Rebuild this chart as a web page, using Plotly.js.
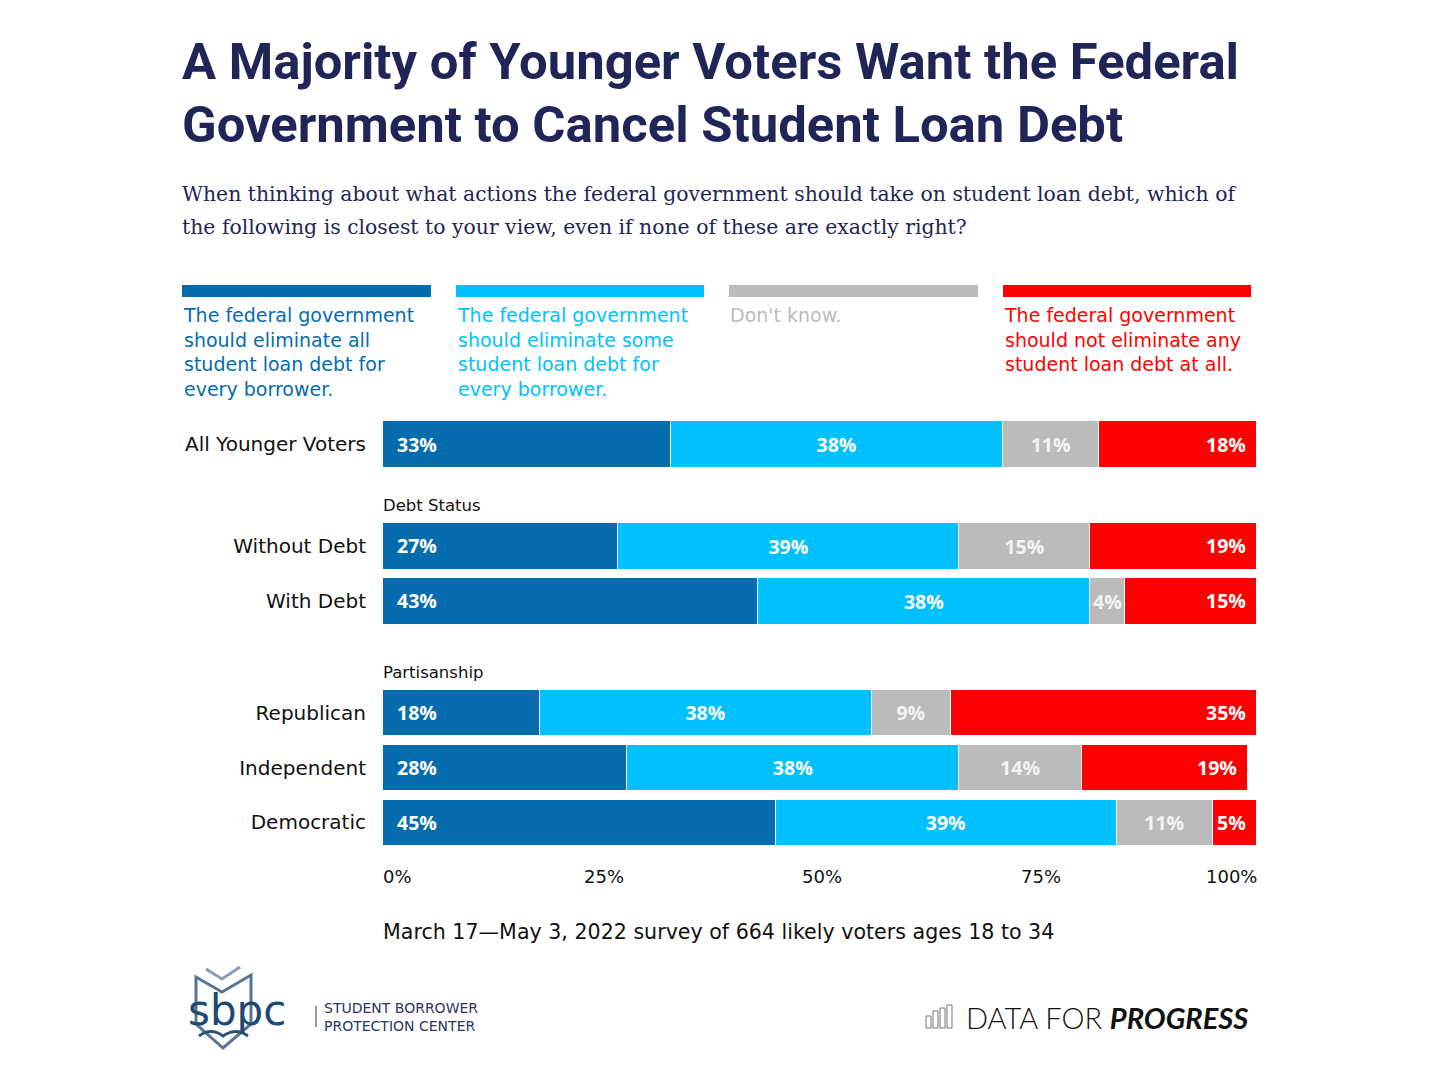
<!DOCTYPE html>
<html>
<head>
<meta charset="utf-8">
<script src="https://cdn.plot.ly/plotly-3.0.1.min.js"></script>
<style>
  html, body { margin: 0; padding: 0; background: #ffffff; }
  #chart { width: 1440px; height: 1080px; }
</style>
</head>
<body>
<div id="chart"></div>
<script>
// ---------------- DATA ----------------
const rows = ["All Younger Voters", "Without Debt", "With Debt", "Republican", "Independent", "Democratic"];
const rowGroups = ["", "Debt Status", "Debt Status", "Partisanship", "Partisanship", "Partisanship"];
const groupOrder = ["", "Debt Status", "Partisanship"];

const eliminateAll  = [33, 27, 43, 18, 28, 45];
const eliminateSome = [38, 39, 38, 38, 38, 39];
const dontKnow      = [11, 15, 4, 9, 14, 11];
const eliminateNone = [18, 19, 15, 35, 19, 5];

const seriesNames = [
  "The federal government<br>should eliminate all<br>student loan debt for<br>every borrower.",
  "The federal government<br>should eliminate some<br>student loan debt for<br>every borrower.",
  "Don't know.",
  "The federal government<br>should not eliminate any<br>student loan debt at all."
];
const tickVals = [0, 25, 50, 75, 100];
const tickLabels = ["0%", "25%", "50%", "75%", "100%"];

const titleLines = [
  "A Majority of Younger Voters Want the Federal",
  "Government to Cancel Student Loan Debt"
];
const subtitleLines = [
  "When thinking about what actions the federal government should take on student loan debt, which of",
  "the following is closest to your view, even if none of these are exactly right?"
];
const noteText = "March 17\u2014May 3, 2022 survey of 664 likely voters ages 18 to 34";

// ---------------- STYLE ----------------
const W = 1440, H = 1080;
const colors = ["#056cad", "#00c1ff", "#bbbbbb", "#ff0000"];
const labelColors = ["#ffffff", "#ffffff", "#f3f3f3", "#ffffff"];
const navy = "#1f2557";
const sansFont = "DejaVu Sans, sans-serif";
const barFont = { family: "Open Sans, sans-serif", size: 19.5, color: "#ffffff", weight: 700 };

const px = (x) => x / W;
const py = (y) => 1 - y / H;

const plotLeft = 382, plotRight = 1256;
const groupBands = [[416.5, 471.5], [518.5, 628.5], [685.6, 849.6]];
const axisNames = ["y", "y2", "y3"];

const series = [eliminateAll, eliminateSome, dontKnow, eliminateNone];

const traces = [];
const annotations = [];
const shapes = [];

groupOrder.forEach((g, gi) => {
  const idx = rows.map((r, i) => i).filter(i => rowGroups[i] === g);
  const cats = idx.map(i => rows[i]);
  series.forEach((vals, si) => {
    const xs = idx.map(i => vals[i]);
    const t = {
      type: "bar",
      orientation: "h",
      y: cats,
      x: xs,
      yaxis: axisNames[gi],
      xaxis: "x",
      name: seriesNames[si],
      showlegend: false,
      marker: { color: colors[si], line: { color: "#ffffff", width: 1 } },
      hovertemplate: "%{y}: %{x}%<extra></extra>"
    };
    if (si === 1 || si === 2) {
      t.text = xs.map(v => v + "%");
      t.textposition = "inside";
      t.insidetextanchor = "middle";
      t.textangle = 0;
      t.constraintext = "none";
      t.textfont = Object.assign({}, barFont, { color: labelColors[si] });
    } else {
      t.textposition = "none";
    }
    traces.push(t);
  });
  idx.forEach(i => {
    annotations.push({
      xref: "x", yref: axisNames[gi], x: 0, y: rows[i],
      text: eliminateAll[i] + "%", showarrow: false,
      xanchor: "left", yanchor: "middle", xshift: 13,
      font: barFont
    });
    const total = eliminateAll[i] + eliminateSome[i] + dontKnow[i] + eliminateNone[i];
    annotations.push({
      xref: "x", yref: axisNames[gi], x: total, y: rows[i],
      text: eliminateNone[i] + "%", showarrow: false,
      xanchor: "right", yanchor: "middle", xshift: -8,
      font: barFont
    });
  });
  if (g) {
    annotations.push({
      xref: "paper", yref: "paper", x: px(381), y: py(groupBands[gi][0] - 13),
      text: g, showarrow: false, xanchor: "left", yanchor: "middle",
      font: { family: sansFont, size: 16.5, color: "#111111" }
    });
  }
});

// x-axis tick labels
tickVals.forEach((v, i) => {
  const anchor = i === 0 ? "left" : (i === tickVals.length - 1 ? "right" : "center");
  annotations.push({
    xref: "x", yref: "paper", x: v, y: py(876),
    text: tickLabels[i], showarrow: false, xanchor: anchor, yanchor: "middle",
    xshift: i === 0 ? -1 : 3,
    font: { family: sansFont, size: 18, color: "#111111" }
  });
});

// Title lines
const titleY = [62, 124];
titleLines.forEach((t, i) => {
  annotations.push({
    xref: "paper", yref: "paper", x: px(180), y: py(titleY[i]),
    text: "<b>" + t + "</b>", showarrow: false, xanchor: "left", yanchor: "middle",
    font: { family: "Roboto, sans-serif", size: 50.8, color: navy }
  });
});
// Subtitle
const subY = [194, 227];
subtitleLines.forEach((t, i) => {
  annotations.push({
    xref: "paper", yref: "paper", x: px(180), y: py(subY[i]),
    text: t, showarrow: false, xanchor: "left", yanchor: "middle",
    font: { family: "DejaVu Serif, serif", size: 20.4, color: navy }
  });
});

// Legend blocks
const legendX = [[182, 431], [456, 704], [729, 978], [1003, 1251]];
legendX.forEach((lx, i) => {
  shapes.push({
    type: "rect", xref: "paper", yref: "paper",
    x0: px(lx[0]), x1: px(lx[1]), y0: py(297), y1: py(285),
    fillcolor: colors[i], line: { width: 0 }
  });
  annotations.push({
    xref: "paper", yref: "paper", x: px(lx[0] - 1), y: py(302),
    text: seriesNames[i], showarrow: false, xanchor: "left", yanchor: "top", align: "left",
    font: { family: sansFont, size: 19, color: colors[i] }
  });
});

// Note
annotations.push({
  xref: "paper", yref: "paper", x: px(381), y: py(932),
  text: noteText, showarrow: false, xanchor: "left", yanchor: "middle",
  font: { family: sansFont, size: 20.6, color: "#111111" }
});

// ---- SBPC logo (approximate) ----
const P = (x, y) => px(x).toFixed(5) + "," + py(y).toFixed(5);
shapes.push({
  type: "path", xref: "paper", yref: "paper",
  path: "M" + P(196, 1024) + " L" + P(196, 977) + " L" + P(222, 992) + " L" + P(251, 975) +
        " L" + P(251, 1024) + " L" + P(223, 1048) + " Z",
  line: { color: "#5a7496", width: 3 }
});
shapes.push({
  type: "path", xref: "paper", yref: "paper",
  path: "M" + P(206, 969) + " L" + P(222, 979) + " L" + P(240, 967),
  line: { color: "#8a9db6", width: 3 }
});
shapes.push({
  type: "path", xref: "paper", yref: "paper",
  path: "M" + P(199, 1036) + " Q" + P(211, 1027) + " " + P(223, 1036) + " Q" + P(236, 1027) + " " + P(248, 1036),
  line: { color: "#2c5279", width: 3 }
});
annotations.push({
  xref: "paper", yref: "paper", x: px(186), y: py(1010),
  text: "sbpc", showarrow: false, xanchor: "left", yanchor: "middle",
  font: { family: "DejaVu Sans, sans-serif", size: 42, color: "#1d4a72" }
});
shapes.push({
  type: "line", xref: "paper", yref: "paper",
  x0: px(316), x1: px(316), y0: py(1006), y1: py(1027),
  line: { color: "#2a3560", width: 1 }
});
annotations.push({
  xref: "paper", yref: "paper", x: px(322), y: py(1017),
  text: "STUDENT BORROWER<br>PROTECTION CENTER", showarrow: false, xanchor: "left", yanchor: "middle",
  align: "left",
  font: { family: "DejaVu Sans, sans-serif", size: 14, color: "#2a3560" }
});

// ---- Data for Progress logo (approximate) ----
const iconBars = [[926, 1016], [933, 1011], [940, 1008], [947, 1005]];
iconBars.forEach(b => {
  shapes.push({
    type: "rect", xref: "paper", yref: "paper",
    x0: px(b[0]), x1: px(b[0] + 5), y0: py(1028), y1: py(b[1]),
    line: { color: "#777777", width: 1 }, fillcolor: "rgba(0,0,0,0)"
  });
});
annotations.push({
  xref: "paper", yref: "paper", x: px(964), y: py(1018),
  text: "DATA FOR <b><i>PROGRESS</i></b>", showarrow: false, xanchor: "left", yanchor: "middle",
  font: { family: "Lato, sans-serif", size: 29, color: "#111111", weight: 300 }
});

// ---------------- LAYOUT ----------------
const yAxisBase = (band) => ({
  domain: [py(band[1]), py(band[0])],
  anchor: "x",
  type: "category",
  autorange: "reversed",
  showgrid: false, zeroline: false, showline: false,
  ticks: "",
  ticklabelstandoff: 15,
  tickfont: { family: sansFont, size: 20, color: "#111111" },
  fixedrange: true
});

const layout = {
  width: W, height: H,
  margin: { l: 0, r: 0, t: 0, b: 0 },
  paper_bgcolor: "#ffffff",
  plot_bgcolor: "#ffffff",
  barmode: "stack",
  bargap: 0.16,
  showlegend: false,
  xaxis: {
    domain: [px(plotLeft), px(plotRight)],
    range: [0, 100],
    anchor: "y3",
    showgrid: false, zeroline: false, showline: false,
    showticklabels: false, ticks: "",
    fixedrange: true
  },
  yaxis: yAxisBase(groupBands[0]),
  yaxis2: yAxisBase(groupBands[1]),
  yaxis3: yAxisBase(groupBands[2]),
  annotations: annotations,
  shapes: shapes
};

Plotly.newPlot("chart", traces, layout, { displayModeBar: false, staticPlot: true });
</script>
</body>
</html>
